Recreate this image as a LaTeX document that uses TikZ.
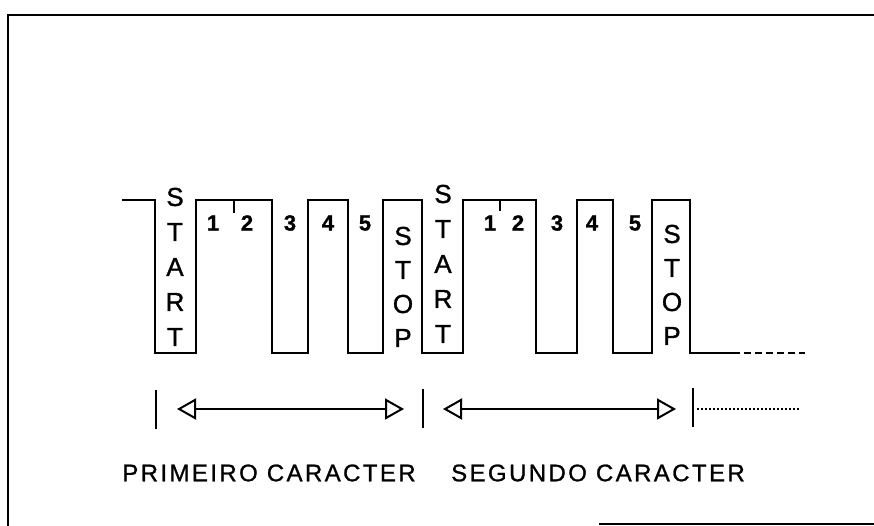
\documentclass[tikz,border=0pt]{standalone}
\usepackage{fontspec}
\setmainfont{Liberation Sans}
\newfontfamily\heavysans[FakeBold=1.2]{Liberation Sans}
\newfontfamily\widesans[FakeBold=1,LetterSpace=10]{Liberation Sans}
\usetikzlibrary{arrows.meta}

\begin{document}
\begin{tikzpicture}[
  x=1pt,
  y=-1pt,
  line join=miter,
  line cap=butt,
  frame/.style={draw=black,line width=1.8pt},
  signal/.style={draw=black,line width=2pt},
  idle/.style={draw=black,line width=1.6pt,dash pattern=on 7pt off 4pt},
  span/.style={draw=black,line width=2pt,
    {Triangle[open,length=19pt,width=21pt,line width=2pt]}-{Triangle[open,length=19pt,width=21pt,line width=2pt]}},
  bar/.style={draw=black,line width=2.2pt},
  dots/.style={draw=black,line width=1.2pt,dash pattern=on 1.5pt off 2.5pt},
  letter/.style={inner sep=0pt,font=\heavysans\fontsize{26}{28}\selectfont},
  digit/.style={inner sep=0pt,font=\heavysans\fontsize{22}{24}\selectfont\bfseries},
  caption/.style={inner sep=0pt,font=\widesans\fontsize{24}{26}\selectfont}
]
  \useasboundingbox (0,0) rectangle (874,526);

  % Scanned page frame: left and top edges, bottom only partly visible.
  \draw[frame] (8,526) -- (8,15) -- (874,15);
  \draw[frame] (599,524) -- (874,524);

  % Serial line: idle high, start bit low, five data bits, stop bit high.
  \draw[signal] (122,200) -- (155,200) -- (155,353) -- (196,353) -- (196,200)
    -- (272,200) -- (272,353) -- (308,353) -- (308,200) -- (348,200)
    -- (348,353) -- (383,353) -- (383,200) -- (422,200) -- (422,353)
    -- (463,353) -- (463,200) -- (536,200) -- (536,353) -- (577,353)
    -- (577,200) -- (613,200) -- (613,353) -- (652,353) -- (652,200)
    -- (690,200) -- (690,353) -- (733,353);
  \draw[idle] (733,353) -- (805,353);

  % Small ticks between bits 1 and 2.
  \draw[signal] (234,200) -- (234,213);
  \draw[signal] (500,200) -- (500,211);

  % Vertical START / STOP labels.
  \foreach \ch [count=\i] in {S,T,A,R,T} {
    \node[letter] (startA\i) at (175,{162+35*\i}) {\ch};
    \node[letter] (startB\i) at (443,{159+35*\i}) {\ch};
  }
  \foreach \ch [count=\i] in {S,T,O,P} {
    \node[letter] (stopA\i) at (403,{202+34*\i}) {\ch};
    \node[letter] (stopB\i) at (672,{200+34*\i}) {\ch};
  }

  % Data bit numbers.
  \foreach \n/\xa/\xb in {1/213/490,2/247/518,3/290/557,4/328/592,5/365/635} {
    \node[digit] (bitA\n) at (\xa,223) {\n};
    \node[digit] (bitB\n) at (\xb,223) {\n};
  }

  % Character spans.
  \coordinate (barA) at (156,409);
  \coordinate (barB) at (423,409);
  \coordinate (barC) at (693,409);
  \draw[bar] (156,390) -- (156,429);
  \draw[bar] (423,389) -- (423,428);
  \draw[bar] (693,388) -- (693,427);
  \draw[span] ([xshift=21pt]barA) -- ([xshift=-19pt]barB);
  \draw[span] ([xshift=20pt]barB) -- ([xshift=-17pt]barC);
  \draw[dots] ([xshift=4pt]barC) -- ([xshift=107pt]barC);

  \node[caption] (first) at (269,473) {PRIMEIRO CARACTER};
  \node[caption] (second) at (598,473) {SEGUNDO CARACTER};
\end{tikzpicture}
\end{document}
